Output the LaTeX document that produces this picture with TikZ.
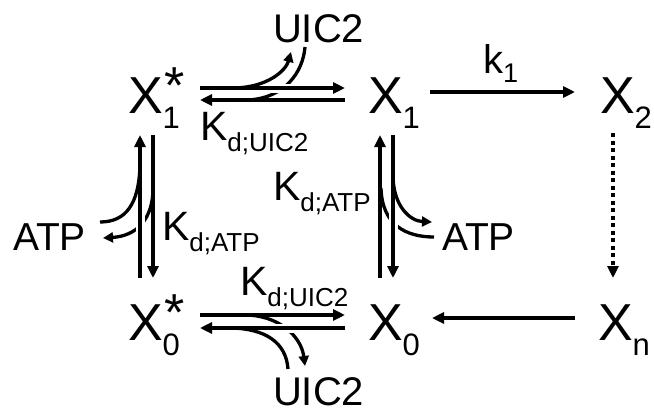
\documentclass[tikz,border=0pt]{standalone}
\usepackage{fontspec}
\setmainfont{Liberation Sans}
\usetikzlibrary{arrows.meta}
\newcommand{\fsz}[1]{\fontsize{#1}{#1}\selectfont}
\newcommand{\Xsym}[2]{\fsz{52}X\rlap{\raisebox{-15pt}{\fsz{31}#1}}\hspace{2pt}\raisebox{10pt}{\fsz{52}#2}}
\newcommand{\Kd}[1]{\fsz{41}K\raisebox{-11pt}{\fsz{26}d;#1}}
\tikzset{
  lbl/.style={anchor=base west, inner sep=0pt, outer sep=0pt},
  arr/.style={line width=3.8pt, -{Triangle[length=12pt,width=11pt]}},
  carr/.style={line width=3.3pt, -{Triangle[length=10pt,width=10pt]}},
  cln/.style={line width=3.3pt},
  halo/.style={preaction={draw=white, line width=9pt, -}},
  dotarr/.style={arr, dash pattern=on 4pt off 3.5pt},
}
\begin{document}
\begin{tikzpicture}[x=1pt,y=-1pt]
\useasboundingbox (0,0) rectangle (654,410);
% species
\node[lbl] (X1s) at (128,113) {\Xsym{1}{*}};
\node[lbl] (X1)  at (368,113) {\Xsym{1}{}};
\node[lbl] (X2)  at (600,113) {\Xsym{2}{}};
\node[lbl] (X0s) at (128,340) {\Xsym{0}{*}};
\node[lbl] (X0)  at (368,340) {\Xsym{0}{}};
\node[lbl] (Xn)  at (598,340) {\Xsym{n}{}};
% ligands
\node[lbl] (U1) at (273,42)  {\fsz{40}UIC2};
\node[lbl] (U0) at (273,405) {\fsz{40}UIC2};
\node[lbl] (A1) at (13,250)  {\fsz{39}ATP};
\node[lbl] (A0) at (442,250) {\fsz{39}ATP};
% rate labels
\node[lbl] (KUt) at (200,140) {\Kd{UIC2}};
\node[lbl] (KUb) at (240,295) {\Kd{UIC2}};
\node[lbl] (KAl) at (162,240) {\Kd{ATP}};
\node[lbl] (KAr) at (273,200) {\Kd{ATP}};
\node[lbl] (k1)  at (483,73)  {\fsz{40}k\raisebox{-9pt}{\fsz{27}1}};
% connector ends
\coordinate (X1sE1) at (200,88);  \coordinate (X1W1) at (345,88);
\coordinate (X1sE2) at (200,100); \coordinate (X1W2) at (345,100);
\coordinate (X0sE1) at (200,315); \coordinate (X0W1) at (345,315);
\coordinate (X0sE2) at (200,328); \coordinate (X0W2) at (345,328);
\coordinate (X1sS1) at (140,135); \coordinate (X0sN1) at (140,278);
\coordinate (X1sS2) at (153,135); \coordinate (X0sN2) at (153,278);
\coordinate (X1S1) at (380,135);  \coordinate (X0N1) at (380,278);
\coordinate (X1S2) at (393,135);  \coordinate (X0N2) at (393,278);
\coordinate (X1E) at (430,92);    \coordinate (X2W) at (575,92);
\coordinate (X2S) at (613,133);   \coordinate (XnN) at (613,278);
\coordinate (XnW) at (575,318);   \coordinate (X0E) at (432,318);
\coordinate (U1b) at (305,47);    \coordinate (U1a) at (291,52);
\coordinate (U0t) at (288,369);   \coordinate (U0a) at (305,366);
\coordinate (A1r) at (100,222);   \coordinate (A1a) at (103,238);
\coordinate (A0l) at (434,237);   \coordinate (A0a) at (432,222);
% top pair
\draw[cln] (U1b) .. controls (303,72) and (285,98) .. (248,100);
\draw[arr] (X1W2) -- (X1sE2);
\draw[arr,halo] (X1sE1) -- (X1W1);
\draw[carr] (232,88) .. controls (268,88) and (286,70) .. (U1a);
% bottom pair
\draw[carr] (245,315) .. controls (277,315) and (301,335) .. (U0a);
\draw[arr] (X0sE1) -- (X0W1);
\draw[arr,halo] (X0W2) -- (X0sE2);
\draw[cln] (U0t) .. controls (286,342) and (265,329) .. (232,328);
% left pair
\draw[carr] (153,188) .. controls (153,220) and (136,236) .. (A1a);
\draw[arr] (X1sS2) -- (X0sN2);
\draw[arr,halo] (X0sN1) -- (X1sS1);
\draw[cln] (A1r) .. controls (126,222) and (139,204) .. (140,165);
% right pair
\draw[cln] (A0l) .. controls (406,237) and (382,225) .. (381,188);
\draw[arr] (X0N1) -- (X1S1);
\draw[arr,halo] (X1S2) -- (X0N2);
\draw[carr] (393,175) .. controls (393,206) and (410,221) .. (A0a);
% cycle
\draw[arr] (X1E) -- (X2W);
\draw[dotarr] (X2S) -- (XnN);
\draw[arr] (XnW) -- (X0E);
\end{tikzpicture}
\end{document}
